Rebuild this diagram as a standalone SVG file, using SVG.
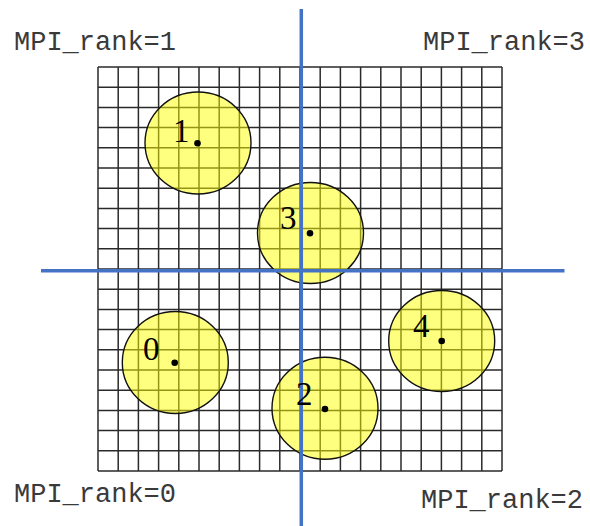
<svg xmlns="http://www.w3.org/2000/svg" width="590" height="526" viewBox="0 0 590 526">
<defs>
<style>
.grid{stroke:#2a2a2a;stroke-width:1.5;fill:none}
.blob{fill:#ffff00;fill-opacity:0.5;stroke:#111;stroke-width:1.4}
.dot{fill:#000}
.num{font-family:"Liberation Serif","Times New Roman",serif;font-size:33px;fill:#000}
.rank{font-family:"Liberation Mono","Courier New",monospace;font-size:27px;fill:#3a3a3a}
.axis{stroke:#4472c4;stroke-width:3.5;fill:none}
</style>
</defs>
<rect width="590" height="526" fill="#fff"/>
<g id="grid">
<path class="grid" d="M98 67V471M118.2 67V471M138.4 67V471M158.6 67V471M178.8 67V471M199 67V471M219.2 67V471M239.4 67V471M259.6 67V471M279.8 67V471M300 67V471M320.2 67V471M340.4 67V471M360.6 67V471M380.8 67V471M401 67V471M421.2 67V471M441.4 67V471M461.6 67V471M481.8 67V471M502 67V471"/>
<path class="grid" d="M98 67H502M98 87.2H502M98 107.4H502M98 127.6H502M98 147.8H502M98 168H502M98 188.2H502M98 208.4H502M98 228.6H502M98 248.8H502M98 269H502M98 289.2H502M98 309.4H502M98 329.6H502M98 349.8H502M98 370H502M98 390.2H502M98 410.4H502M98 430.6H502M98 450.8H502M98 471H502"/>
</g>
<g id="region1"><ellipse class="blob" cx="198" cy="143" rx="53" ry="51"/></g>
<g id="region3"><ellipse class="blob" cx="310.5" cy="233" rx="53" ry="50.5"/></g>
<g id="region0"><ellipse class="blob" cx="175.3" cy="362.5" rx="53" ry="51"/></g>
<g id="region2"><ellipse class="blob" cx="325" cy="408.3" rx="53" ry="51"/></g>
<g id="region4"><ellipse class="blob" cx="441.7" cy="341" rx="53" ry="50.5"/></g>
<g id="connectors">
<line class="axis" x1="301.3" y1="9" x2="301.3" y2="526"/>
<line class="axis" x1="41" y1="270.7" x2="564.5" y2="270.7"/>
</g>
<g id="node1"><circle class="dot" cx="197.5" cy="143.3" r="3.3"/><text class="num" x="173" y="142">1</text></g>
<g id="node3"><circle class="dot" cx="310" cy="233.3" r="3.3"/><text class="num" x="280" y="229">3</text></g>
<g id="node0"><circle class="dot" cx="174.7" cy="362.7" r="3.3"/><text class="num" x="143" y="360">0</text></g>
<g id="node2"><circle class="dot" cx="325" cy="409" r="3.3"/><text class="num" x="296" y="405">2</text></g>
<g id="node4"><circle class="dot" cx="441.7" cy="341" r="3.3"/><text class="num" x="413" y="337">4</text></g>
<g id="labels">
<text class="rank" x="14" y="50">MPI_rank=1</text>
<text class="rank" x="423" y="50">MPI_rank=3</text>
<text class="rank" x="14" y="502">MPI_rank=0</text>
<text class="rank" x="421" y="508">MPI_rank=2</text>
</g>
</svg>
